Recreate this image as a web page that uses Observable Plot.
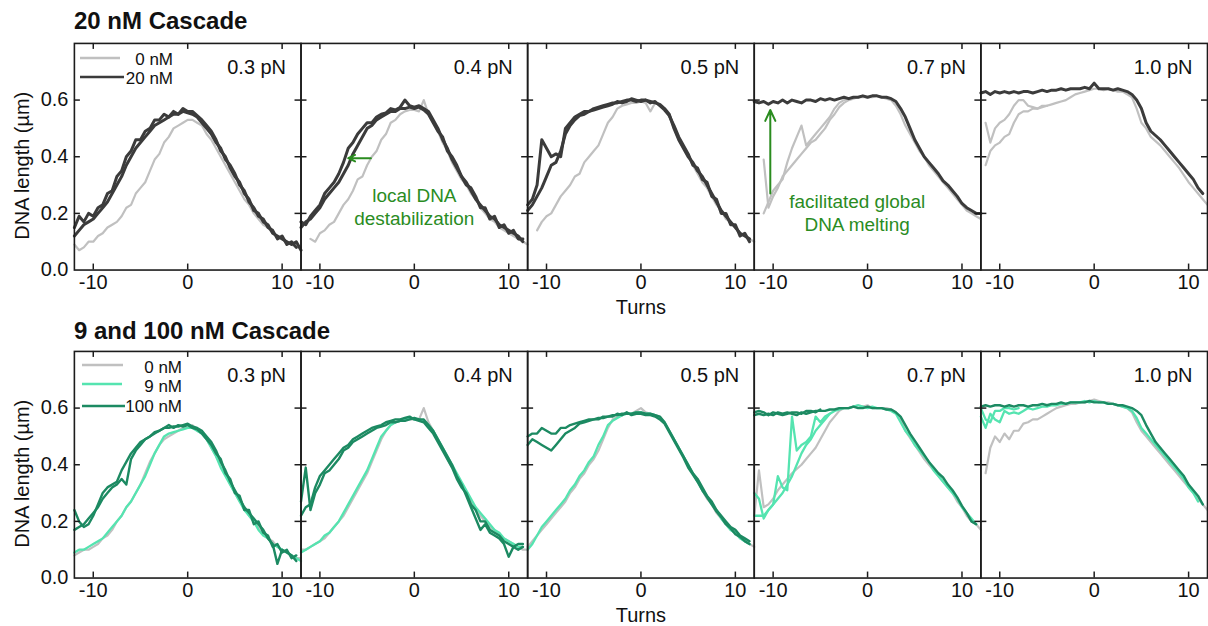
<!DOCTYPE html>
<html>
<head>
<meta charset="utf-8">
<script src="https://cdn.jsdelivr.net/npm/d3@7"></script>
<script src="https://cdn.jsdelivr.net/npm/@observablehq/plot@0.6"></script>
<style>
  html, body { margin: 0; padding: 0; background: #fff; overflow: hidden; }
  #wrap { position: relative; width: 1208px; height: 626px; overflow: hidden; font-family: "Liberation Sans", Arial, sans-serif; color: #111; }
  .row { position: absolute; left: 0; }
  .title { position: absolute; left: 74px; font-size: 24px; line-height: 24px; font-weight: bold; white-space: nowrap; z-index: 5; }
  #legend { position: absolute; left: 0; top: 0; z-index: 6; pointer-events: none; }
</style>
</head>
<body>
<div id="wrap">
  <div id="row1" class="row" style="top:0px"></div>
  <div id="row2" class="row" style="top:308px"></div>
  <div class="title" style="top:9px">20 nM Cascade</div>
  <div class="title" style="top:319px">9 and 100 nM Cascade</div>
</div>
<script>
// ---------- sample positions (turns) ----------
const turns = [-12,-11.5,-11,-10.5,-10,-9.5,-9,-8.5,-8,-7.5,
  -7,-6.5,-6,-5.5,-5,-4.5,-4,-3.5,-3,-2.5,
  -2,-1.5,-1,-0.5,0,0.5,1,1.5,2,2.5,
  3,3.5,4,4.5,5,5.5,6,6.5,7,7.5,
  8,8.5,9,9.5,10,10.5,11,11.5,12];

const forces = ["0.3 pN","0.4 pN","0.5 pN","0.7 pN","1.0 pN"];
const topSeries = ["0 nM","20 nM"];
const bottomSeries = ["0 nM","9 nM","100 nM"];
const yLabelTicks = [0, 0.2, 0.4, 0.6];
const yInnerTicks = [0.2, 0.4, 0.6];
const xTicks = [-10, 0, 10];

// ---------- top row: 20 nM Cascade (DNA length, µm) ----------
const t03_0 = [.09,.07,.08,.10,.10,.12,.13,.15,.16,.17,
  .19,.22,.23,.27,.29,.31,.35,.39,.41,.45,
  .47,.50,.51,.52,.53,.53,.52,.51,.48,.46,
  .43,.40,.37,.34,.31,.28,.25,.23,.20,.18,
  .16,.15,.13,.12,.11,.10,.09,.08,.08];
const t03_20a = [.15,.19,.17,.20,.19,.22,.23,.27,.28,.33,
  .35,.40,.42,.46,.46,.49,.50,.53,.53,.55,
  .54,.56,.55,.57,.56,.56,.545,.53,.51,.49,
  .46,.42,.40,.36,.33,.31,.27,.25,.21,.20,
  .17,.16,.13,.12,.11,.10,.09,.10,.07];
const t03_20b = [.12,.14,.16,.17,.18,.20,.22,.24,.27,.30,
  .33,.37,.40,.43,.45,.47,.49,.51,.52,.53,
  .54,.55,.55,.56,.555,.55,.54,.52,.50,.48,
  .45,.43,.39,.37,.34,.30,.28,.24,.22,.19,
  .18,.15,.14,.11,.12,.09,.10,.08,null];

const t04_0 = [null,null,.11,.10,.13,.14,.16,.17,.20,.23,
  .25,.28,.32,.33,.37,.40,.42,.46,.48,.52,
  .53,.55,.56,.565,.565,.56,.60,.55,.52,.49,
  .45,.42,.38,.35,.32,.30,.27,.25,.22,.20,
  .18,.17,.15,.14,.13,.12,.11,.10,.09];
const t04_20a = [.17,.16,.19,.21,.23,.27,.29,.31,.34,.38,
  .43,.45,.48,.50,.52,.52,.54,.55,.555,.57,
  .565,.575,.60,.58,.575,.58,.57,.56,.53,.50,
  .46,.43,.39,.36,.33,.31,.28,.25,.23,.21,
  .19,.18,.16,.15,.14,.13,.12,.10,null];
const t04_20b = [.15,.17,.18,.20,.22,.25,.27,.29,.31,.34,
  .37,.41,.44,.47,.50,.51,.53,.54,.55,.56,
  .56,.57,.57,.575,.57,.575,.565,.55,.52,.49,
  .47,.42,.40,.37,.33,.30,.29,.26,.22,.22,
  .18,.19,.15,.16,.13,.14,.11,.11,null];

const t05_0 = [null,null,.14,.17,.19,.20,.23,.26,.28,.30,
  .33,.34,.38,.40,.42,.44,.48,.52,.54,.57,
  .58,.585,.59,.59,.595,.59,.56,.59,.58,.57,
  .54,.50,.46,.43,.40,.37,.34,.31,.29,.26,
  .23,.21,.18,.17,.15,.13,.12,.11,.10];
const t05_20a = [.23,.25,.30,.46,.43,.40,.41,.40,.50,.52,
  .54,.55,.56,.56,.57,.575,.58,.585,.59,.59,
  .595,.60,.60,.595,.60,.60,.595,.59,.585,.57,
  .55,.50,.46,.43,.40,.38,.35,.33,.30,.27,
  .24,.21,.19,.17,.15,.13,.12,.11,null];
const t05_20b = [.21,.23,.26,.29,.33,.37,.38,.42,.48,.51,
  .53,.545,.55,.56,.565,.57,.575,.58,.585,.595,
  .59,.595,.605,.60,.595,.60,.59,.595,.58,.565,
  .545,.51,.47,.44,.41,.37,.36,.32,.31,.26,
  .25,.20,.20,.16,.16,.12,.13,.10,null];

const t07_0a = [null,null,.20,.24,.28,.30,.32,.38,.43,.47,
  .51,.44,.46,.48,.50,.52,.54,.57,.59,.60,
  .605,.61,.61,.61,.61,.61,.615,.61,.605,.60,
  .58,.55,.51,.48,.45,.42,.40,.37,.35,.33,
  .31,.29,.27,.25,.23,.21,.20,.19,.18];
const t07_0b = [null,null,.39,.22,.26,.29,.33,.35,.37,.39,
  .41,.43,.45,.46,.48,.50,.53,.55,.575,.59,
  .60,.605,.61,null,null,null,null,null,null,null,
  null,null,null,null,null,null,null,null,null,null,
  null,null,null,null,null,null,null,null,null];
const t07_20 = [.595,.59,.595,.585,.595,.59,.60,.59,.60,.595,
  .59,.60,.60,.595,.605,.60,.605,.60,.605,.61,
  .605,.61,.61,.615,.61,.615,.615,.61,.61,.605,
  .595,.57,.54,.50,.46,.43,.40,.38,.36,.34,
  .315,.30,.28,.26,.235,.22,.21,.20,.20];

const t10_0a = [null,.52,.45,.50,.52,.53,.55,.58,.60,.60,
  .58,.575,.57,.58,.58,.585,.59,.595,.60,.61,
  .62,.625,.63,.635,.64,.64,.635,.64,.635,.63,
  .63,.62,.61,.57,.52,.50,.47,.455,.44,.42,
  .40,.38,.36,.335,.31,.29,.27,.25,.23];
const t10_0b = [null,.37,.42,.44,.45,.47,.48,.52,.55,.56,
  .56,.57,.57,.575,.58,null,null,null,null,null,
  null,null,null,null,null,null,null,null,null,null,
  null,null,null,null,null,null,null,null,null,null,
  null,null,null,null,null,null,null,null,null];
const t10_20 = [.625,.63,.62,.63,.625,.63,.625,.63,.625,.63,
  .63,.625,.63,.635,.63,.635,.635,.64,.635,.64,
  .64,.64,.645,.64,.66,.64,.64,.64,.635,.64,
  .635,.63,.62,.60,.57,.52,.49,.475,.46,.44,
  .42,.40,.38,.36,.34,.32,.29,.27,null];

// ---------- bottom row: 9 and 100 nM Cascade ----------
const b03_0 = [.08,.09,.10,.10,.11,.12,.14,.15,.17,.20,
  .22,.25,.27,.30,.33,.37,.41,.44,.47,.49,
  .50,.51,.52,.53,.53,.54,.52,.51,.49,.46,
  .43,.40,.37,.33,.30,.27,.25,.22,.20,.18,
  .16,.14,.13,.11,.10,.09,.08,.07,.07];
const b03_9 = [.09,.10,.10,.11,.12,.13,.14,.16,.18,.20,
  .22,.25,.27,.30,.33,.36,.40,.44,.47,.50,
  .51,.515,.52,.525,.53,.53,.52,.51,.49,.46,
  .43,.39,.36,.33,.30,.27,.24,.22,.20,.17,
  .15,.14,.12,.11,.10,.09,.08,.07,.06];
const b03_100a = [.24,.20,.18,.19,.22,.26,.30,.32,.33,.34,
  .38,.41,.44,.46,.48,.49,.50,.515,.52,.53,
  .53,.535,.535,.54,.545,.535,.53,.52,.50,.48,
  .45,.41,.38,.34,.31,.28,.25,.23,.21,.19,
  .17,.14,.12,.05,.10,.09,.08,.06,null];
const b03_100b = [.17,.18,.19,.21,.23,.25,.28,.30,.32,.33,
  .35,.33,.42,.45,.47,.49,.50,.51,.52,.53,
  .54,.53,.54,.535,.54,.53,.525,.51,.49,.47,
  .44,.42,.37,.35,.30,.29,.24,.24,.19,.20,
  .16,.15,.11,.12,.09,.10,.07,.08,null];

const b04_0 = [.10,.10,.11,.12,.13,.14,.16,.18,.20,.22,
  .25,.28,.31,.34,.37,.41,.45,.49,.52,.54,
  .55,.555,.56,.56,.56,.56,.60,.55,.52,.49,
  .46,.42,.39,.36,.33,.30,.27,.24,.22,.20,
  .18,.17,.15,.14,.13,.12,.11,.10,.10];
const b04_9 = [.09,.10,.11,.12,.13,.15,.16,.18,.20,.23,
  .26,.29,.32,.35,.38,.42,.46,.50,.52,.54,
  .55,.555,.56,.565,.56,.56,.555,.54,.52,.49,
  .46,.43,.40,.37,.34,.31,.28,.25,.23,.21,
  .19,.17,.16,.14,.13,.12,.11,.11,null];
const b04_100a = [.27,.39,.24,.30,.33,.37,.38,.40,.42,.45,
  .46,.48,.49,.50,.51,.52,.53,.535,.54,.55,
  .55,.555,.555,.56,.565,.56,.56,.54,.52,.49,
  .46,.43,.40,.36,.33,.29,.25,.21,.17,.19,
  .16,.15,.14,.12,.075,.11,.12,.12,null];
const b04_100b = [.22,.25,.26,.32,.36,.38,.40,.42,.44,.46,
  .47,.49,.50,.51,.52,.53,.535,.54,.55,.555,
  .56,.56,.565,.57,.56,.555,.55,.53,.51,.48,
  .45,.42,.39,.35,.32,.30,.26,.24,.20,.20,
  .17,.16,.15,.13,.12,.11,.10,.11,null];

const b05_0 = [.11,.13,.15,.17,.19,.21,.23,.25,.27,.30,
  .32,.35,.37,.40,.42,.45,.49,.53,.56,.57,
  .575,.58,.58,.59,.60,.585,.58,.575,.57,.55,
  .52,.49,.46,.43,.40,.37,.34,.31,.28,.26,
  .23,.21,.19,.17,.16,.14,.13,.12,.11];
const b05_9 = [.10,.12,.15,.18,.20,.22,.24,.26,.28,.31,
  .33,.36,.38,.41,.43,.47,.50,.54,.555,.565,
  .575,.58,.58,.585,.585,.58,.58,.575,.565,.55,
  .52,.49,.46,.43,.40,.37,.34,.31,.29,.26,
  .24,.21,.19,.17,.16,.14,.13,.12,null];
const b05_100a = [.50,.51,.51,.53,.52,.51,.51,.53,.53,.54,
  .545,.55,.555,.56,.56,.565,.565,.57,.575,.575,
  .58,.58,.58,.585,.585,.58,.58,.575,.57,.55,
  .52,.49,.46,.43,.40,.37,.35,.32,.29,.27,
  .24,.22,.20,.18,.17,.15,.14,.13,null];
const b05_100b = [.47,.49,.48,.47,.46,.45,.47,.49,.51,.52,
  .53,.545,.55,.555,.56,.56,.57,.57,.57,.58,
  .575,.585,.575,.58,.58,.575,.575,.57,.56,.545,
  .515,.485,.455,.425,.39,.365,.34,.31,.285,.26,
  .235,.215,.19,.175,.155,.145,.13,.12,null];

const b07_0 = [.22,.38,.25,.26,.28,.31,.33,.35,.37,.385,
  .40,.42,.44,.46,.49,.52,.55,.57,.59,.60,
  .60,.605,.61,.605,.61,.60,.60,.60,.60,.595,
  .585,.56,.52,.495,.47,.445,.42,.40,.38,.36,
  .34,.32,.30,.27,.25,.22,.20,.19,.17];
const b07_9a = [.30,.28,.21,.24,.26,.36,.32,.31,.57,.45,
  .47,.48,.50,.57,.55,.57,.58,.59,.595,.60,
  .60,.605,.61,.605,.60,.605,.60,.60,.595,.59,
  .58,.55,.52,.50,.47,.45,.43,.41,.38,.36,
  .34,.32,.30,.28,.25,.23,.21,.19,null];
const b07_9b = [.22,.22,.22,.24,.26,.28,.30,.33,.36,.40,
  .44,.47,.49,.52,.54,.56,.58,null,null,null,
  null,null,null,null,null,null,null,null,null,null,
  null,null,null,null,null,null,null,null,null,null,
  null,null,null,null,null,null,null,null,null];
const b07_100a = [.575,.58,.575,.58,.575,.585,.58,.585,.58,.575,
  .585,.58,.585,.59,.59,.59,.595,.595,.60,.60,
  .60,.605,.60,.60,.605,.60,.60,.60,.595,.595,
  .585,.57,.54,.51,.485,.46,.435,.41,.39,.37,
  .355,.33,.31,.285,.255,.23,.20,.19,null];
const b07_100b = [.585,.59,.585,.575,.585,.58,.575,.58,.585,.585,
  .58,.59,.59,.585,.595,null,null,null,null,null,
  null,null,null,null,null,null,null,null,null,null,
  null,null,null,null,null,null,null,null,null,null,
  null,null,null,null,null,null,null,null,null];

const b10_0 = [null,.37,.46,.50,.48,.51,.49,.52,.52,.545,
  .55,.56,.56,.57,.58,.59,.60,.605,.61,.615,
  .615,.62,.62,.625,.63,.625,.62,.62,.615,.61,
  .605,.60,.585,.55,.52,.50,.48,.46,.44,.42,
  .40,.38,.36,.34,.32,.30,.28,.26,.24];
const b10_9a = [.57,.53,.58,.56,.55,.59,.58,.585,.58,.59,
  .60,.595,.60,.605,.605,.61,.61,.615,.615,.62,
  .62,.62,.625,.62,.625,.62,.62,.615,.615,.61,
  .605,.60,.59,.565,.53,.51,.49,.47,.45,.43,
  .41,.39,.37,.35,.32,.30,.27,null,null];
const b10_9b = [.60,.56,.55,.59,.59,.60,.60,.595,.60,null,
  null,null,null,null,null,null,null,null,null,null,
  null,null,null,null,null,null,null,null,null,null,
  null,null,null,null,null,null,null,null,null,null,
  null,null,null,null,null,null,null,null,null];
const b10_100 = [.605,.61,.605,.61,.61,.605,.61,.605,.61,.61,
  .605,.61,.61,.615,.61,.615,.615,.62,.615,.62,
  .62,.62,.62,.625,.62,.62,.62,.615,.615,.61,
  .61,.605,.60,.59,.575,.54,.51,.48,.46,.44,
  .42,.40,.38,.36,.33,.31,.29,.26,null];

// ---------- which trace belongs where ----------
const topTraces = [
  ["0.3 pN","0 nM",t03_0],["0.3 pN","20 nM",t03_20a],["0.3 pN","20 nM",t03_20b],
  ["0.4 pN","0 nM",t04_0],["0.4 pN","20 nM",t04_20a],["0.4 pN","20 nM",t04_20b],
  ["0.5 pN","0 nM",t05_0],["0.5 pN","20 nM",t05_20a],["0.5 pN","20 nM",t05_20b],
  ["0.7 pN","0 nM",t07_0a],["0.7 pN","0 nM",t07_0b],["0.7 pN","20 nM",t07_20],
  ["1.0 pN","0 nM",t10_0a],["1.0 pN","0 nM",t10_0b],["1.0 pN","20 nM",t10_20]
];
const bottomTraces = [
  ["0.3 pN","0 nM",b03_0],["0.3 pN","9 nM",b03_9],["0.3 pN","100 nM",b03_100a],["0.3 pN","100 nM",b03_100b],
  ["0.4 pN","0 nM",b04_0],["0.4 pN","9 nM",b04_9],["0.4 pN","100 nM",b04_100a],["0.4 pN","100 nM",b04_100b],
  ["0.5 pN","0 nM",b05_0],["0.5 pN","9 nM",b05_9],["0.5 pN","100 nM",b05_100a],["0.5 pN","100 nM",b05_100b],
  ["0.7 pN","0 nM",b07_0],["0.7 pN","9 nM",b07_9a],["0.7 pN","9 nM",b07_9b],["0.7 pN","100 nM",b07_100a],["0.7 pN","100 nM",b07_100b],
  ["1.0 pN","0 nM",b10_0],["1.0 pN","9 nM",b10_9a],["1.0 pN","9 nM",b10_9b],["1.0 pN","100 nM",b10_100]
];

// annotations (top row), in data units
const annotations = [
  {force: "0.4 pN", x: 0, y: 0.226, text: "local DNA\ndestabilization"},
  {force: "0.7 pN", x: -1.1, y: 0.205, text: "facilitated global\nDNA melting"}
];
const arrows = [
  {force: "0.4 pN", x1: -4.6, y1: 0.395, x2: -7.0, y2: 0.395},
  {force: "0.7 pN", x1: -10.3, y1: 0.27, x2: -10.3, y2: 0.565}
];

const topColors = {"0 nM": "#c0c0c0", "20 nM": "#3b3b3b"};
const topWidths = {"0 nM": 2.2, "20 nM": 3};
const bottomColors = {"0 nM": "#c0c0c0", "9 nM": "#55e4b0", "100 nM": "#1c8a62"};
const bottomWidths = {"0 nM": 2.2, "9 nM": 2.3, "100 nM": 2.4};
const green = "#2a8c1f";

for (const [name, tr] of [["top", topTraces], ["bottom", bottomTraces]]) {
  tr.forEach((t, k) => { if (t[2].length !== turns.length) throw new Error(name + " trace " + k + " has " + t[2].length + " values"); });
}

function toRows(traces) {
  return traces.flatMap(([force, series, values], k) =>
    turns.map((x, i) => ({force, series, id: k, x, y: values[i]})));
}

const FW = 227, FH = 227;
const axisColor = "#1c1c1c";

function rowPlot({traces, series, colors, widths, height, marginBottom, extra}) {
  const data = toRows(traces);
  return Plot.plot({
    width: 1210, height,
    marginLeft: 74, marginRight: 1, marginTop: 43, marginBottom,
    x: {domain: [-12, 12]},
    y: {domain: [0, 0.8]},
    fx: {domain: forces, padding: 0, axis: null},
    style: {fontFamily: "'Liberation Sans', Arial, sans-serif", fontSize: "20px", color: "#111", background: "transparent", overflow: "visible"},
    marks: [
      ...series.map(s => Plot.line(data.filter(d => d.series === s), {
        fx: "force", x: "x", y: "y", z: "id",
        stroke: colors[s], strokeWidth: widths[s], strokeLinejoin: "round", strokeLinecap: "round"
      })),
      ...extra,
      Plot.frame({stroke: axisColor, strokeWidth: 1.6}),
      Plot.tickY(yInnerTicks, {y: d => d, insetRight: FW - 6, stroke: axisColor, strokeWidth: 1.5}),
      Plot.tickY(yInnerTicks, {y: d => d, insetLeft: FW - 6, stroke: axisColor, strokeWidth: 1.5}),
      Plot.tickX(xTicks, {x: d => d, insetTop: FH - 6, stroke: axisColor, strokeWidth: 1.5}),
      Plot.tickX(xTicks, {x: d => d, insetBottom: FH - 6, stroke: axisColor, strokeWidth: 1.5}),
      Plot.axisY({ticks: yLabelTicks, tickFormat: d => d.toFixed(1), tickSize: 0, tickPadding: 6, label: null, fontSize: 20}),
      Plot.axisX({ticks: xTicks, tickFormat: d => String(d), tickSize: 0, tickPadding: 5, label: null, fontSize: 20}),
      Plot.text(forces, {fx: d => d, text: d => d, frameAnchor: "top-right", dx: -15, dy: 24, lineAnchor: "middle", fontSize: 20}),
      Plot.text([forces[2]], {fx: d => d, text: () => "Turns", frameAnchor: "bottom", dy: 38, lineAnchor: "middle", fontSize: 20}),
      Plot.text([forces[0]], {fx: d => d, text: () => "DNA length (µm)", frameAnchor: "left", textAnchor: "middle", rotate: -90, dx: -52, dy: 9, fontSize: 20})
    ]
  });
}

const topExtra = [
  Plot.text(annotations, {fx: "force", x: "x", y: "y", text: "text", fill: green, fontSize: 19, lineHeight: 1.2}),
  Plot.arrow(arrows, {fx: "force", x1: "x1", y1: "y1", x2: "x2", y2: "y2", stroke: green, strokeWidth: 2, headLength: 9, headAngle: 50})
];

document.getElementById("row1").append(rowPlot({
  traces: topTraces, series: topSeries, colors: topColors, widths: topWidths,
  height: 315, marginBottom: 45, extra: topExtra
}));
document.getElementById("row2").append(rowPlot({
  traces: bottomTraces, series: bottomSeries, colors: bottomColors, widths: bottomWidths,
  height: 318, marginBottom: 48, extra: []
}));

// ---------- legends (inside the first panel of each row) ----------
const legendTop = [
  {label: "0 nM", color: topColors["0 nM"], x1: 80, x2: 120, ly: 58, ty: 65, tx: 173},
  {label: "20 nM", color: topColors["20 nM"], x1: 80, x2: 124, ly: 77, ty: 84, tx: 173}
];
const legendBottom = [
  {label: "0 nM", color: bottomColors["0 nM"], x1: 82, x2: 123, ly: 365, ty: 373, tx: 182},
  {label: "9 nM", color: bottomColors["9 nM"], x1: 82, x2: 122, ly: 384, ty: 392, tx: 182},
  {label: "100 nM", color: bottomColors["100 nM"], x1: 82, x2: 125, ly: 406, ty: 412, tx: 182}
];
const svg = d3.select("#wrap").append("svg").attr("id", "legend").attr("width", 1208).attr("height", 626);
for (const e of [...legendTop, ...legendBottom]) {
  svg.append("line").attr("x1", e.x1).attr("x2", e.x2).attr("y1", e.ly).attr("y2", e.ly)
    .attr("stroke", e.color).attr("stroke-width", 2.6);
  svg.append("text").attr("x", e.tx).attr("y", e.ty).attr("text-anchor", "end")
    .attr("font-family", "'Liberation Sans', Arial, sans-serif").attr("font-size", 17).attr("fill", "#111")
    .text(e.label);
}
</script>
</body>
</html>
